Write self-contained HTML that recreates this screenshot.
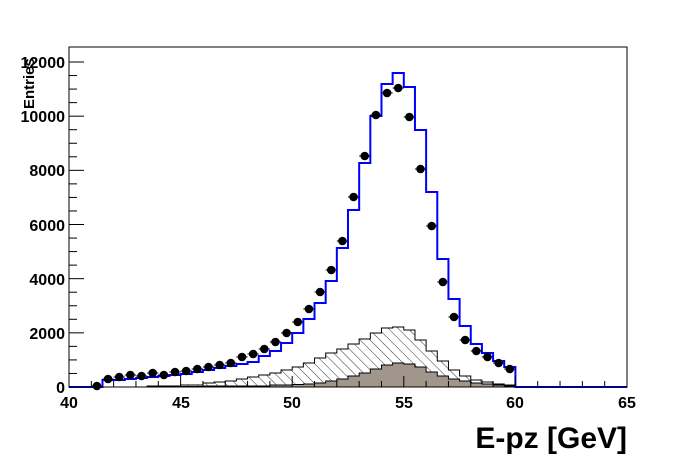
<!DOCTYPE html>
<html><head><meta charset="utf-8"><style>body{margin:0;background:#fff}svg{display:block}</style></head>
<body>
<svg id="s" width="696" height="472" xmlns="http://www.w3.org/2000/svg" font-family="Liberation Sans, sans-serif" font-weight="bold">
<defs><pattern id="h" patternUnits="userSpaceOnUse" width="7" height="7" patternTransform="rotate(-45)"><line x1="0" y1="0" x2="0" y2="7" stroke="#000" stroke-width="0.8"/></pattern></defs>
<g id="g"></g>
<rect x="69" y="47" width="558" height="340" fill="none" stroke="#000" stroke-width="1"/>
<g font-size="16">
<text x="65" y="393" text-anchor="end">0</text>
<text x="65" y="339" text-anchor="end">2000</text>
<text x="65" y="285" text-anchor="end">4000</text>
<text x="65" y="231" text-anchor="end">6000</text>
<text x="65" y="176" text-anchor="end">8000</text>
<text x="65" y="122" text-anchor="end">10000</text>
<text x="65" y="68" text-anchor="end">12000</text>
<text x="69" y="408" text-anchor="middle">40</text>
<text x="181" y="408" text-anchor="middle">45</text>
<text x="292" y="408" text-anchor="middle">50</text>
<text x="404" y="408" text-anchor="middle">55</text>
<text x="515" y="408" text-anchor="middle">60</text>
<text x="627" y="408" text-anchor="middle">65</text>
</g>
<text x="627" y="448" text-anchor="end" font-size="30">E-pz [GeV]</text>
<text transform="translate(34,109) rotate(-90)" font-size="15">Entries</text>
</svg>
<script>
const X=v=>69+(v-40)*22.32, Y0=387, S=0.027083;
const g=document.getElementById('g');let h='';
const hat=[0,0,0,0,0,1,1,1,2,2,4,5,6,8,10,12,14,17,20,24,29,34,38,43,48,54,59,60,57,47,36,26,17,11,7,5,3,2];
const gry=[0,0,0,0,0,0,0.5,0.5,0.5,0.5,1,1,1,1,1,1,2,2,2.5,3,4,6,8,11,14,18,22,24,23,20,15,11,8,6,4,3,2,1];
const blu=[387,380,380,379,378,377,376,375,374,372,370,368,366,364,362,356,351,343,333,319,303,281,248,210,163,116,84,73,87,130,192,259,299,326,344,353,361,367];
function step(arr,abs){let d='M'+X(41)+','+Y0;for(let i=0;i<arr.length;i++){const y=abs?arr[i]:Y0-arr[i];d+=' L'+X(41+i*.5)+','+y+' L'+X(41.5+i*.5)+','+y;}return d+' L'+X(41+arr.length*.5)+','+Y0;}
h+=`<path d="${step(hat)} Z" fill="url(#h)" stroke="#000" stroke-width="1"/>`;
h+=`<path d="${step(gry)} Z" fill="#a0968c" stroke="#000" stroke-width="1"/>`;
let bd='M69,387';
for(let i=0;i<blu.length;i++){bd+=' L'+X(41+i*.5)+','+blu[i]+' L'+X(41.5+i*.5)+','+blu[i];}
bd+=' L'+X(60)+',387 L627,387';
h+=`<path d="${bd}" fill="none" stroke="#0000ff" stroke-width="2"/>`;
const pts=[386,379,377,375,376,373,375,372,371,369,367,365,363,357,354,349,342,333,322,309,292,270,241,197,156,115,93,88,117,169,226,282,317,340,351,357,363,369];
pts.forEach((y,i)=>{const x=X(41.25+i*.5);h+=`<line x1="${x-5.6}" y1="${y}" x2="${x+5.6}" y2="${y}" stroke="#000"/><circle cx="${x}" cy="${y}" r="4.3" fill="#000"/>`;});
for(let v=0;v<=12000;v+=500){const y=Y0-v*S;const L=v%2000==0?15:8;h+=`<line x1="69" y1="${y}" x2="${69+L}" y2="${y}" stroke="#000"/>`;}
for(let v=40;v<=65;v++){const x=X(v);const L=v%5==0?11:6;h+=`<line x1="${x}" y1="387" x2="${x}" y2="${387-L}" stroke="#000"/>`;}
g.innerHTML=h;
</script>
</body></html>
